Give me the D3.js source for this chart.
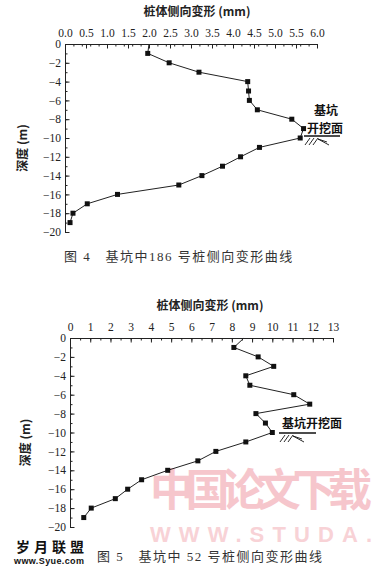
<!DOCTYPE html>
<html>
<head>
  <meta charset="utf-8">
  <script src="https://cdn.jsdelivr.net/npm/d3@7/dist/d3.min.js"></script>
  <style>
    body { margin: 0; background: #fff; }
    svg { display: block; }
    .tick text { font-family: "Liberation Serif", "DejaVu Serif", serif; font-size: 11.5px; fill: #222; }
    .axis path, .axis line { stroke: #222; }
  </style>
</head>
<body>
  <div id="chartArea"></div>
  <script>
    // figure 4: pile 186
    let depth4 = [0, -1, -2, -3, -4, -5, -6, -7, -8, -9, -10, -11, -12, -13, -14, -15, -16, -17, -18, -19];
    let disp4 = [2.0, 1.97, 2.48, 3.19, 4.35, 4.37, 4.39, 4.58, 5.40, 5.68, 5.60, 4.63, 4.18, 3.75, 3.26, 2.71, 1.25, 0.53, 0.19, 0.12];
    let xTicks4 = [0, 0.5, 1, 1.5, 2, 2.5, 3, 3.5, 4, 4.5, 5, 5.5, 6];

    // figure 5: pile 52
    let depth5 = [0, -1, -2, -3, -4, -5, -6, -7, -8, -9, -10, -11, -12, -13, -14, -15, -16, -17, -18, -19];
    let disp5 = [8.6, 8.1, 9.3, 10.07, 8.69, 8.89, 11.06, 11.85, 9.19, 9.66, 10.0, 8.69, 7.21, 6.32, 4.83, 3.54, 2.85, 2.24, 1.05, 0.68];
    let xTicks5 = [0, 1, 2, 3, 4, 5, 6, 7, 8, 9, 10, 11, 12, 13];

    let yTicks = [0, -2, -4, -6, -8, -10, -12, -14, -16, -18, -20];

    let w = 373;
    let h = 569;
    let svg = d3.select('#chartArea').append('svg')
      .attr('width', w)
      .attr('height', h);

    // watermark sits behind everything
    svg.append('text')
      .attr('x', 150).attr('y', 506)
      .attr('font-family', 'Noto Sans CJK SC').attr('font-weight', 'bold')
      .attr('font-size', 44).attr('fill', '#f6c6cc')
      .attr('textLength', 222)
      .text('中国论文下载');
    svg.append('text')
      .attr('x', 150).attr('y', 542)
      .attr('font-family', 'Liberation Sans').attr('font-weight', 'bold')
      .attr('font-size', 22).attr('fill', '#f8d2d6')
      .attr('textLength', 222)
      .text('WWW.STUDA.');

    function drawChart(cfg) {
      let x = d3.scaleLinear().domain(cfg.xDomain).range([cfg.left, cfg.right]);
      let y = d3.scaleLinear().domain([0, -20]).range([cfg.top, cfg.bottom]);
      let g = svg.append('g');

      // minor ticks first
      g.append('g').attr('class', 'axis')
        .attr('transform', `translate(0,${cfg.top})`)
        .call(d3.axisTop(x).ticks(cfg.minorCount).tickSize(-2.5).tickFormat(''))
        .select('.domain').remove();
      g.append('g').attr('class', 'axis')
        .attr('transform', `translate(${cfg.left},0)`)
        .call(d3.axisLeft(y).ticks(20).tickSize(-2.5).tickFormat(''))
        .select('.domain').remove();

      g.append('g').attr('class', 'axis')
        .attr('transform', `translate(0,${cfg.top})`)
        .call(d3.axisTop(x).tickValues(cfg.xTicks).tickSizeInner(-4.5).tickSizeOuter(0).tickPadding(7)
          .tickFormat(cfg.xFormat));
      g.append('g').attr('class', 'axis')
        .attr('transform', `translate(${cfg.left},0)`)
        .call(d3.axisLeft(y).tickValues(yTicks).tickSizeInner(-4.5).tickSizeOuter(0).tickPadding(4)
          .tickFormat(d3.format('d')));

      g.append('text')
        .attr('x', cfg.titleX).attr('y', cfg.top - 28)
        .attr('text-anchor', 'middle')
        .attr('font-family', 'Noto Sans CJK SC, Liberation Serif').attr('font-weight', 'bold')
        .attr('font-size', 12).attr('fill', '#222')
        .text('桩体侧向变形 (mm)');

      g.append('text')
        .attr('transform', `translate(${cfg.ylabX},${(cfg.top + cfg.bottom) / 2 + 10}) rotate(-90)`)
        .attr('text-anchor', 'middle')
        .attr('font-family', 'Noto Sans CJK SC, Liberation Serif').attr('font-weight', 'bold')
        .attr('font-size', 12).attr('fill', '#222')
        .text('深度 (m)');

      let line = d3.line()
        .x((d, i) => x(cfg.disp[i]))
        .y(d => y(d));
      g.append('path')
        .datum(cfg.depth)
        .attr('fill', 'none')
        .attr('stroke', '#222')
        .attr('stroke-width', 1)
        .attr('d', line);

      g.selectAll('rect.pt')
        .data(cfg.depth.slice(1))
        .enter()
        .append('rect')
        .attr('class', 'pt')
        .attr('x', (d, i) => x(cfg.disp[i + 1]) - 2.5)
        .attr('y', d => y(d) - 2.5)
        .attr('width', 5)
        .attr('height', 5)
        .attr('fill', '#111');

      // excavation surface mark
      let gx = cfg.groundX, gy = cfg.groundY;
      g.append('line')
        .attr('x1', gx).attr('x2', gx + cfg.groundW)
        .attr('y1', gy).attr('y2', gy)
        .attr('stroke', '#111').attr('stroke-width', 1.3);
      let hatch = [[6, 2, 1, 9], [10, 2, 5, 9], [14, 2, 9, 9], [14, 3, 25, 9], [14, 3, 23, 6]];
      g.selectAll('line.hatch')
        .data(hatch)
        .enter()
        .append('line')
        .attr('x1', d => gx + d[0]).attr('y1', d => gy + d[1])
        .attr('x2', d => gx + d[2]).attr('y2', d => gy + d[3])
        .attr('stroke', '#111').attr('stroke-width', 0.9);

      cfg.labels.forEach(l => {
        g.append('text')
          .attr('x', l.x).attr('y', l.y)
          .attr('font-family', 'Noto Sans CJK SC').attr('font-weight', 'bold')
          .attr('font-size', 12).attr('fill', '#111')
          .text(l.t);
      });

      g.append('text')
        .attr('x', cfg.capX).attr('y', cfg.capY)
        .attr('font-family', 'Liberation Serif, Noto Sans CJK SC')
        .attr('font-size', 13).attr('fill', '#333')
        .attr('letter-spacing', 1.5)
        .attr('xml:space', 'preserve')
        .text(cfg.caption);
    }

    drawChart({
      depth: depth4, disp: disp4, xTicks: xTicks4, xDomain: [0, 6], minorCount: 24,
      xFormat: d3.format('.1f'),
      left: 65, right: 317, top: 44, bottom: 232,
      titleX: 197, ylabX: 27,
      groundX: 304, groundY: 136, groundW: 36,
      labels: [{ t: '基坑', x: 314, y: 115 }, { t: '开挖面', x: 307, y: 133 }],
      capX: 64, capY: 261, caption: '图 4   基坑中186 号桩侧向变形曲线'
    });

    drawChart({
      depth: depth5, disp: disp5, xTicks: xTicks5, xDomain: [0, 13], minorCount: 26,
      xFormat: d3.format('d'),
      left: 70, right: 333, top: 338, bottom: 527,
      titleX: 210, ylabX: 30,
      groundX: 279, groundY: 433, groundW: 37,
      labels: [{ t: '基坑开挖面', x: 282, y: 428 }],
      capX: 97, capY: 561, caption: '图 5   基坑中 52 号桩侧向变形曲线'
    });

    // site stamp bottom left
    svg.append('text')
      .attr('x', 16).attr('y', 552)
      .attr('font-family', 'Noto Sans CJK SC').attr('font-weight', 'bold')
      .attr('font-size', 14).attr('fill', '#111')
      .attr('textLength', 68)
      .text('岁月联盟');
    svg.append('text')
      .attr('x', 14).attr('y', 564)
      .attr('font-family', 'Liberation Sans').attr('font-weight', 'bold')
      .attr('font-size', 9).attr('fill', '#111')
      .attr('textLength', 70)
      .text('www.Syue.com');
  </script>
</body>
</html>
